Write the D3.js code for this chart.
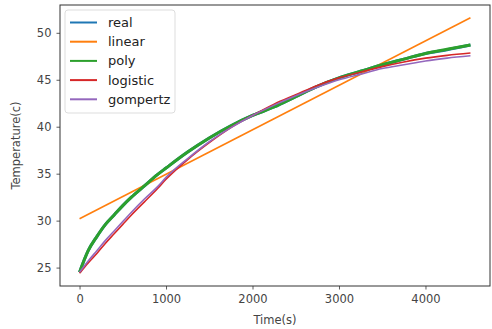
<!DOCTYPE html>
<html>
<head>
<meta charset="utf-8">
<script src="https://cdn.jsdelivr.net/npm/d3@7"></script>
<style>
  body { margin: 0; background: #fff; }
  svg text { font-family: "DejaVu Sans", sans-serif; }
</style>
</head>
<body>
<div id="chart"></div>
<script>
// time samples (s)
var times = [0, 100, 200, 300, 400, 500, 600, 750, 900, 1000, 1250, 1500, 1750, 2000,
	2250, 2500, 2750, 3000, 3250, 3500, 3750, 4000, 4250, 4520];
// measured temperature and the fitted curves
var realTemp = [24.5, 26.8, 28.3, 29.6, 30.6, 31.6, 32.5, 33.7, 34.9, 35.6, 37.3, 38.8,
	40.1, 41.2, 42.1, 43.2, 44.3, 45.2, 45.9, 46.6, 47.2, 47.8, 48.2, 48.7];
var polyTemp = [24.5, 26.8, 28.3, 29.6, 30.6, 31.6, 32.5, 33.7, 34.9, 35.6, 37.3, 38.8,
	40.1, 41.2, 42.1, 43.2, 44.3, 45.2, 45.9, 46.6, 47.2, 47.8, 48.25, 48.7];
var logisticTemp = [24.4, 25.5, 26.5, 27.6, 28.6, 29.6, 30.6, 32.0, 33.4, 34.4, 36.5, 38.3,
	39.9, 41.2, 42.4, 43.4, 44.4, 45.2, 45.8, 46.4, 46.9, 47.3, 47.6, 47.85];
var gompertzTemp = [24.5, 25.7, 26.8, 27.9, 28.9, 29.9, 30.9, 32.3, 33.6, 34.6, 36.6, 38.4,
	39.9, 41.2, 42.3, 43.3, 44.2, 45.0, 45.6, 46.2, 46.6, 47.0, 47.3, 47.55];
// linear fit: end points
var linearTimes = [0, 4520];
var linearTemp = [30.2, 51.6];

var xTicks = [0, 1000, 2000, 3000, 4000];
var yTicks = [25, 30, 35, 40, 45, 50];

var seriesNames = ['real', 'linear', 'poly', 'logistic', 'gompertz'];
var seriesColors = ['#1f77b4', '#ff7f0e', '#2ca02c', '#d62728', '#9467bd'];

var W = 492, H = 329;
var margin = {top: 5, right: 2, bottom: 43, left: 60};
var width = W - margin.left - margin.right;
var height = H - margin.top - margin.bottom;

var svg = d3.select('#chart')
	.append('svg')
	.attr('width', W)
	.attr('height', H);

var g = svg.append('g')
	.attr('transform', 'translate(' + margin.left + ',' + margin.top + ')');

// matplotlib style 5% margins
var xMin = 0, xMax = 4520;
var yMin = 24.4, yMax = 51.6;
var xPad = (xMax - xMin) * 0.05, yPad = (yMax - yMin) * 0.05;
var x = d3.scaleLinear().domain([xMin - xPad, xMax + xPad]).range([0, width]);
var y = d3.scaleLinear().domain([yMin - yPad, yMax + yPad]).range([height, 0]);

function pairs(xs, ys) {
	return xs.map(function(t, i) { return [t, ys[i]]; });
}

var line = d3.line()
	.x(function(d) { return x(d[0]); })
	.y(function(d) { return y(d[1]); })
	.curve(d3.curveMonotoneX);

var seriesData = [
	{data: pairs(times, realTemp), w: 3},
	{data: pairs(linearTimes, linearTemp), w: 1.6},
	{data: pairs(times, polyTemp), w: 3},
	{data: pairs(times, logisticTemp), w: 1.6},
	{data: pairs(times, gompertzTemp), w: 1.6}
];

seriesData.forEach(function(s, i) {
	g.append('path')
		.datum(s.data)
		.attr('d', line)
		.style('fill', 'none')
		.style('stroke', seriesColors[i])
		.style('stroke-width', s.w)
		.style('stroke-linejoin', 'round')
		.style('stroke-linecap', 'butt');
});

// axes
var xAxis = g.append('g')
	.attr('transform', 'translate(0,' + height + ')')
	.call(d3.axisBottom(x).tickValues(xTicks).tickFormat(d3.format('d'))
		.tickSizeOuter(0).tickSize(3.5).tickPadding(5));
var yAxis = g.append('g')
	.call(d3.axisLeft(y).tickValues(yTicks).tickFormat(d3.format('d'))
		.tickSizeOuter(0).tickSize(3.5).tickPadding(5));

[xAxis, yAxis].forEach(function(a) {
	a.select('.domain').remove();
	a.selectAll('line').style('stroke', '#333').style('stroke-width', 0.8);
	a.selectAll('text')
		.style('font-size', '11.5px')
		.style('font-family', '"DejaVu Sans", sans-serif')
		.style('fill', '#444');
});

// frame
g.append('rect')
	.attr('x', 0)
	.attr('y', 0)
	.attr('width', width)
	.attr('height', height)
	.style('fill', 'none')
	.style('stroke', '#333')
	.style('stroke-width', 1);

// axis labels
svg.append('text')
	.attr('x', margin.left + width / 2)
	.attr('y', H - 5)
	.style('text-anchor', 'middle')
	.style('font-size', '11.5px')
	.style('fill', '#444')
	.text('Time(s)');

svg.append('text')
	.attr('transform', 'rotate(-90)')
	.attr('x', -(margin.top + height / 2))
	.attr('y', 20)
	.style('text-anchor', 'middle')
	.style('font-size', '11.5px')
	.style('fill', '#444')
	.text('Temperature(c)');

// legend
var legend = g.append('g').attr('transform', 'translate(5,5)');
legend.append('rect')
	.attr('width', 110)
	.attr('height', 103)
	.attr('rx', 3)
	.style('fill', '#fff')
	.style('fill-opacity', 0.8)
	.style('stroke', '#ddd');

seriesNames.forEach(function(name, i) {
	var yy = 12.5 + i * 19.2;
	legend.append('line')
		.attr('x1', 5)
		.attr('x2', 32)
		.attr('y1', yy)
		.attr('y2', yy)
		.style('stroke', seriesColors[i])
		.style('stroke-width', 2);
	legend.append('text')
		.attr('x', 43)
		.attr('y', yy)
		.attr('dy', '0.35em')
		.style('font-size', '13px')
		.style('fill', '#222')
		.text(name);
});
</script>
</body>
</html>
